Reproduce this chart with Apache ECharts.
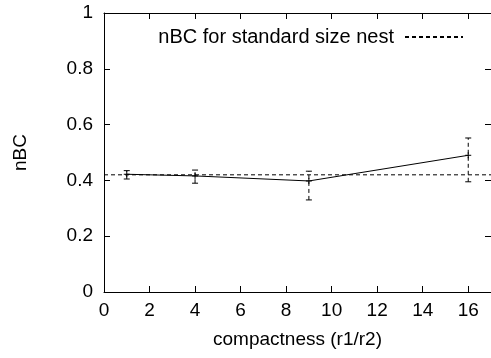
<!DOCTYPE html>
<html>
<head>
<meta charset="utf-8">
<script src="https://cdn.jsdelivr.net/npm/echarts@6/dist/echarts.min.js"></script>
<style>html,body{margin:0;padding:0;background:#fff}#c{width:491px;height:358px}</style>
</head>
<body>
<div id="c"></div>
<script>
const xValues = [1, 4, 9, 16];
const nbcValues = [0.422, 0.416, 0.398, 0.49];
const errLow = [0.405, 0.39, 0.33, 0.395];
const errHigh = [0.435, 0.437, 0.433, 0.552];
const standardNest = 0.42;
const xRange = [0, 17];
const yRange = [0, 1];
const legendLabel = 'nBC for standard size nest';

const font = 'Liberation Sans, Arial, Helvetica, sans-serif';
const fs = 19;
const chart = echarts.init(document.getElementById('c'), null, {renderer: 'canvas'});

const errData = xValues.map((x, i) => [x, errLow[i], errHigh[i], nbcValues[i]]);

const axisCommon = {
  axisLine: {show: true, onZero: false, lineStyle: {color: '#000', width: 1}},
  axisTick: {show: true, inside: true, length: 6, lineStyle: {color: '#000'}},
  splitLine: {show: false}
};

chart.setOption({
  animation: false,
  backgroundColor: '#fff',
  grid: {left: 104, right: -2, top: 13, bottom: 66},
  legend: {
    right: 22, top: 22, align: 'right',
    itemWidth: 58, itemHeight: 14,
    itemStyle: {opacity: 0},
    textStyle: {fontFamily: font, fontSize: 20, color: '#000', padding: [0, 6, 0, 0]},
    data: [legendLabel]
  },
  xAxis: [
    Object.assign({
      type: 'value', min: xRange[0], max: xRange[1], interval: 2,
      name: 'compactness (r1/r2)', nameLocation: 'middle', nameGap: 38,
      nameTextStyle: {fontFamily: font, fontSize: fs, color: '#000'},
      axisLabel: {fontFamily: font, fontSize: fs, color: '#000', margin: 9, showMaxLabel: false}
    }, axisCommon),
    Object.assign({
      type: 'value', position: 'top', min: xRange[0], max: xRange[1], interval: 2,
      axisLabel: {show: false}
    }, axisCommon)
  ],
  yAxis: [
    Object.assign({
      type: 'value', min: yRange[0], max: yRange[1], interval: 0.2,
      name: 'nBC', nameLocation: 'middle', nameGap: 74,
      nameTextStyle: {fontFamily: font, fontSize: fs, color: '#000'},
      axisLabel: {fontFamily: font, fontSize: fs, color: '#000', margin: 11,
        formatter: v => (Math.round(v * 10) / 10).toString()}
    }, axisCommon),
    Object.assign({
      type: 'value', position: 'right', min: yRange[0], max: yRange[1], interval: 0.2,
      axisLabel: {show: false}
    }, axisCommon)
  ],
  series: [
    {
      name: 'nBC',
      type: 'line',
      data: xValues.map((x, i) => [x, nbcValues[i]]),
      symbol: 'none',
      lineStyle: {color: '#000', width: 1},
      z: 3
    },
    {
      name: 'errors',
      type: 'custom',
      data: errData,
      renderItem: function (params, api) {
        const x = api.value(0);
        const lo = api.coord([x, api.value(1)]);
        const hi = api.coord([x, api.value(2)]);
        const mid = api.coord([x, api.value(3)]);
        const st = {stroke: '#000', lineWidth: 1, fill: null};
        const cap = 3;
        return {
          type: 'group',
          children: [
            {type: 'line', shape: {x1: lo[0], y1: lo[1], x2: hi[0], y2: hi[1]},
              style: Object.assign({}, st, {lineDash: [4, 3]})},
            {type: 'line', shape: {x1: lo[0] - cap, y1: lo[1], x2: lo[0] + cap, y2: lo[1]}, style: st},
            {type: 'line', shape: {x1: hi[0] - cap, y1: hi[1], x2: hi[0] + cap, y2: hi[1]}, style: st},
            {type: 'line', shape: {x1: mid[0] - cap, y1: mid[1], x2: mid[0] + cap, y2: mid[1]}, style: st},
            {type: 'line', shape: {x1: mid[0], y1: mid[1] - cap, x2: mid[0], y2: mid[1] + cap}, style: st}
          ]
        };
      },
      z: 4
    },
    {
      name: legendLabel,
      type: 'line',
      data: [[xRange[0], standardNest], [xRange[1], standardNest]],
      symbol: 'none',
      lineStyle: {color: '#000', width: 1, type: [4, 3]},
      itemStyle: {color: '#000'},
      z: 2
    }
  ]
});
</script>
</body>
</html>
